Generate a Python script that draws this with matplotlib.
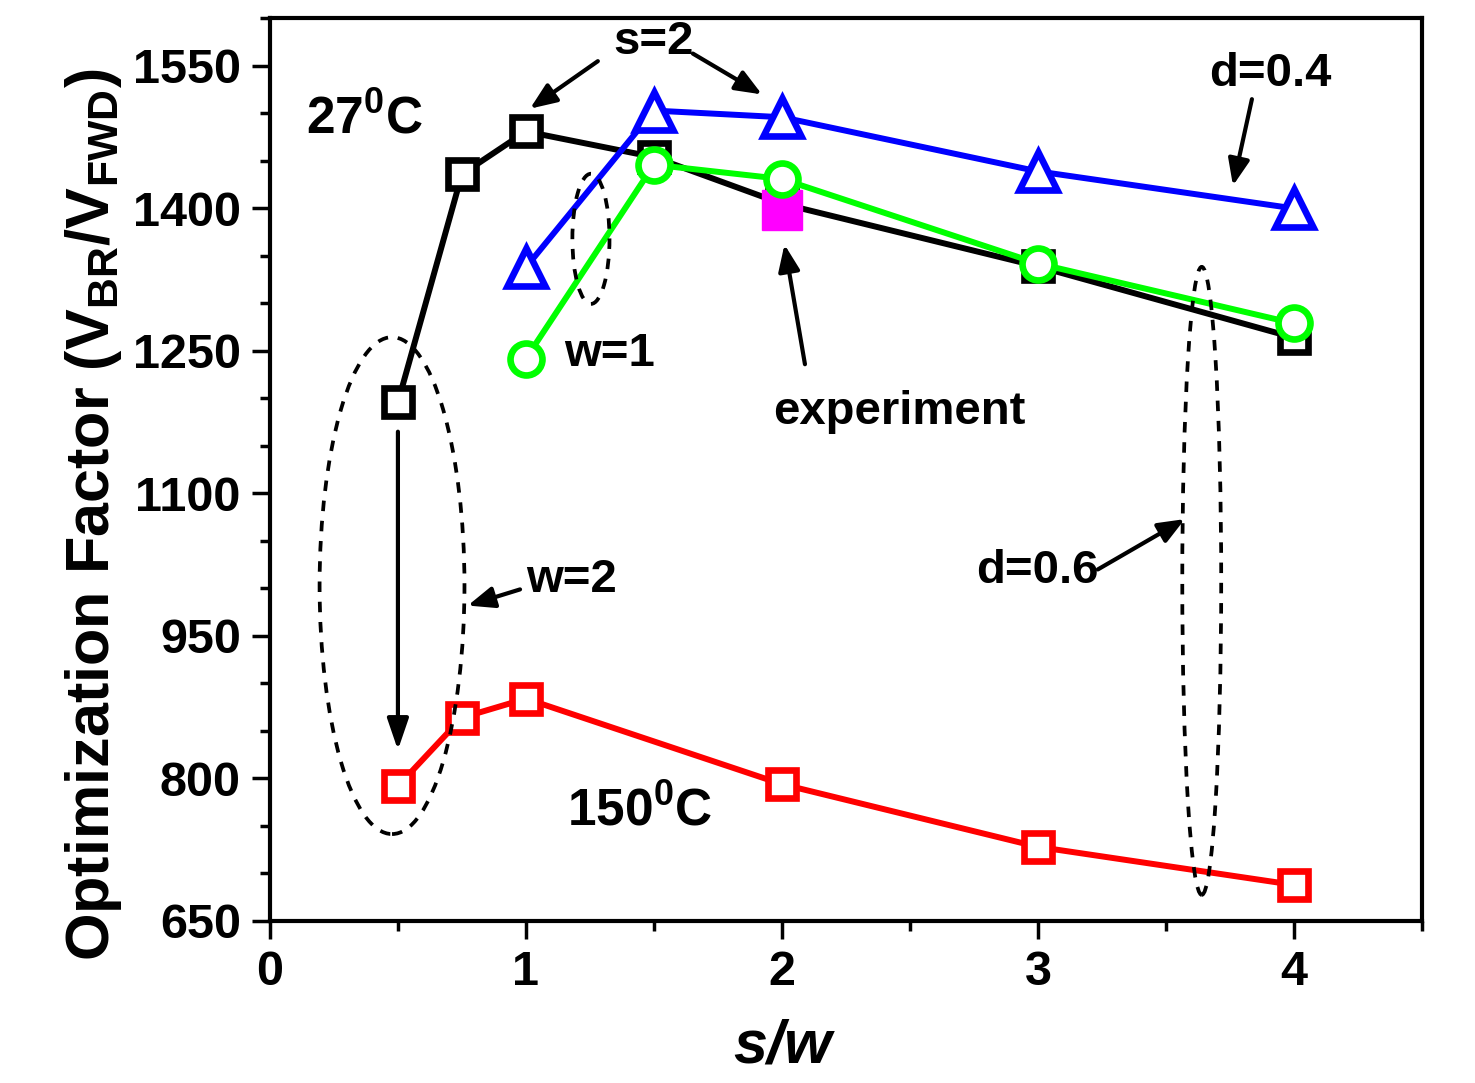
import matplotlib
matplotlib.use('Agg')
import matplotlib.pyplot as plt
from matplotlib.patches import Ellipse
from matplotlib.ticker import MultipleLocator

plt.rcParams['font.family'] = ['Liberation Sans', 'DejaVu Sans']
plt.rcParams['font.weight'] = 'bold'
plt.rcParams['axes.labelweight'] = 'bold'
plt.rcParams['mathtext.fontset'] = 'custom'
plt.rcParams['mathtext.rm'] = 'Liberation Sans:bold'
plt.rcParams['mathtext.bf'] = 'Liberation Sans:bold'
plt.rcParams['mathtext.it'] = 'Liberation Sans:bold'
plt.rcParams['mathtext.default'] = 'bf'

# s/w ratios and optimization factor values
sw_27 = [0.5, 0.75, 1, 1.5, 2, 3, 4]
of_27 = [1196, 1436, 1481, 1454, 1405, 1339, 1264]

sw_d04 = [1, 1.5, 2, 3, 4]
of_d04 = [1338, 1503, 1496, 1439, 1400]

sw_w1 = [1, 1.5, 2, 3, 4]
of_w1 = [1242, 1446, 1431, 1342, 1279]

sw_150 = [0.5, 0.75, 1, 2, 3, 4]
of_150 = [792, 864, 884, 794, 728, 688]

sw_exp = [2]
of_exp = [1398]

y_ticks = [650, 800, 950, 1100, 1250, 1400, 1550]

fig = plt.figure(figsize=(14.75, 10.83), dpi=100)
ax = fig.add_axes([0.183, 0.1496, 0.781, 0.8334])

lw = 4.3
ax.plot(sw_27, of_27, color='black', lw=lw, marker='s', ms=20, mew=4.8,
        mfc='white', zorder=3)
ax.plot(sw_exp, of_exp, linestyle='none', marker='s', ms=29, color='#ff00ff',
        zorder=4)
ax.plot(sw_d04, of_d04, color='#0000ff', lw=lw, marker='^', ms=27, mew=4.8,
        mfc='white', zorder=5)
ax.plot(sw_w1, of_w1, color='#00ff00', lw=lw, marker='o', ms=23, mew=4.8,
        mfc='white', zorder=6)
ax.plot(sw_150, of_150, color='#ff0000', lw=lw, marker='s', ms=20, mew=4.8,
        mfc='white', zorder=3)

# dashed ellipses
for cx, cy, w, h in [(0.477, 1003, 0.566, 523), (1.254, 1368, 0.145, 137),
                     (3.64, 1008, 0.152, 661)]:
    ax.add_patch(Ellipse((cx, cy), w, h, fill=False, ec='black', lw=2.7,
                         ls=(0, (2.8, 2.6)), zorder=7))

tfs = 34
arrow = dict(arrowstyle='-|>,head_length=1.6,head_width=0.65', color='black',
             lw=3, shrinkA=0, shrinkB=0)

ax.text(0.37, 1494, r'27$^{0}$C', fontsize=37, ha='center', va='center')
ax.text(1.445, 765, r'150$^{0}$C', fontsize=37, ha='center', va='center')
ax.text(1.50, 1575, 's=2', fontsize=tfs, ha='center', va='center')
ax.annotate('', xy=(1.016, 1505), xytext=(1.281, 1555), arrowprops=arrow)
ax.annotate('', xy=(1.922, 1520), xytext=(1.652, 1563), arrowprops=arrow)
ax.text(3.906, 1542, 'd=0.4', fontsize=tfs, ha='center', va='center')
ax.annotate('', xy=(3.762, 1424), xytext=(3.836, 1515), arrowprops=arrow)
ax.text(2.46, 1186, 'experiment', fontsize=tfs, ha='center', va='center')
ax.annotate('', xy=(2.01, 1362), xytext=(2.09, 1236), arrowprops=arrow)
ax.text(1.328, 1247, 'w=1', fontsize=tfs, ha='center', va='center')
ax.text(1.18, 1009, 'w=2', fontsize=tfs, ha='center', va='center')
ax.annotate('', xy=(0.773, 982), xytext=(0.977, 999), arrowprops=arrow)
ax.text(2.996, 1018, 'd=0.6', fontsize=tfs, ha='center', va='center')
ax.annotate('', xy=(3.574, 1073), xytext=(3.234, 1020), arrowprops=arrow)
ax.annotate('', xy=(0.5, 830), xytext=(0.5, 1165),
            arrowprops=dict(arrowstyle='-|>,head_length=1.9,head_width=0.65',
                            color='black', lw=3, shrinkA=0, shrinkB=0))

ax.set_xlim(0, 4.5)
ax.set_ylim(650, 1600)
ax.xaxis.set_major_locator(MultipleLocator(1))
ax.xaxis.set_minor_locator(MultipleLocator(0.5))
ax.set_yticks(y_ticks)
ax.yaxis.set_minor_locator(MultipleLocator(50))
ax.tick_params(which='major', direction='out', length=13, width=2.5,
               labelsize=35, pad=8)
ax.tick_params(which='minor', direction='out', length=7, width=2.5)
for s in ax.spines.values():
    s.set_linewidth(3)

ax.set_xlabel('s/w', fontsize=44, style='italic')
ax.xaxis.set_label_coords(0.445, -0.108)
ax.set_ylabel(r'Optimization Factor (V$_{BR}$/V$_{FWD}$)', fontsize=44)
ax.yaxis.set_label_coords(-0.127, 0.45)

fig.savefig('out.png', dpi=100)
